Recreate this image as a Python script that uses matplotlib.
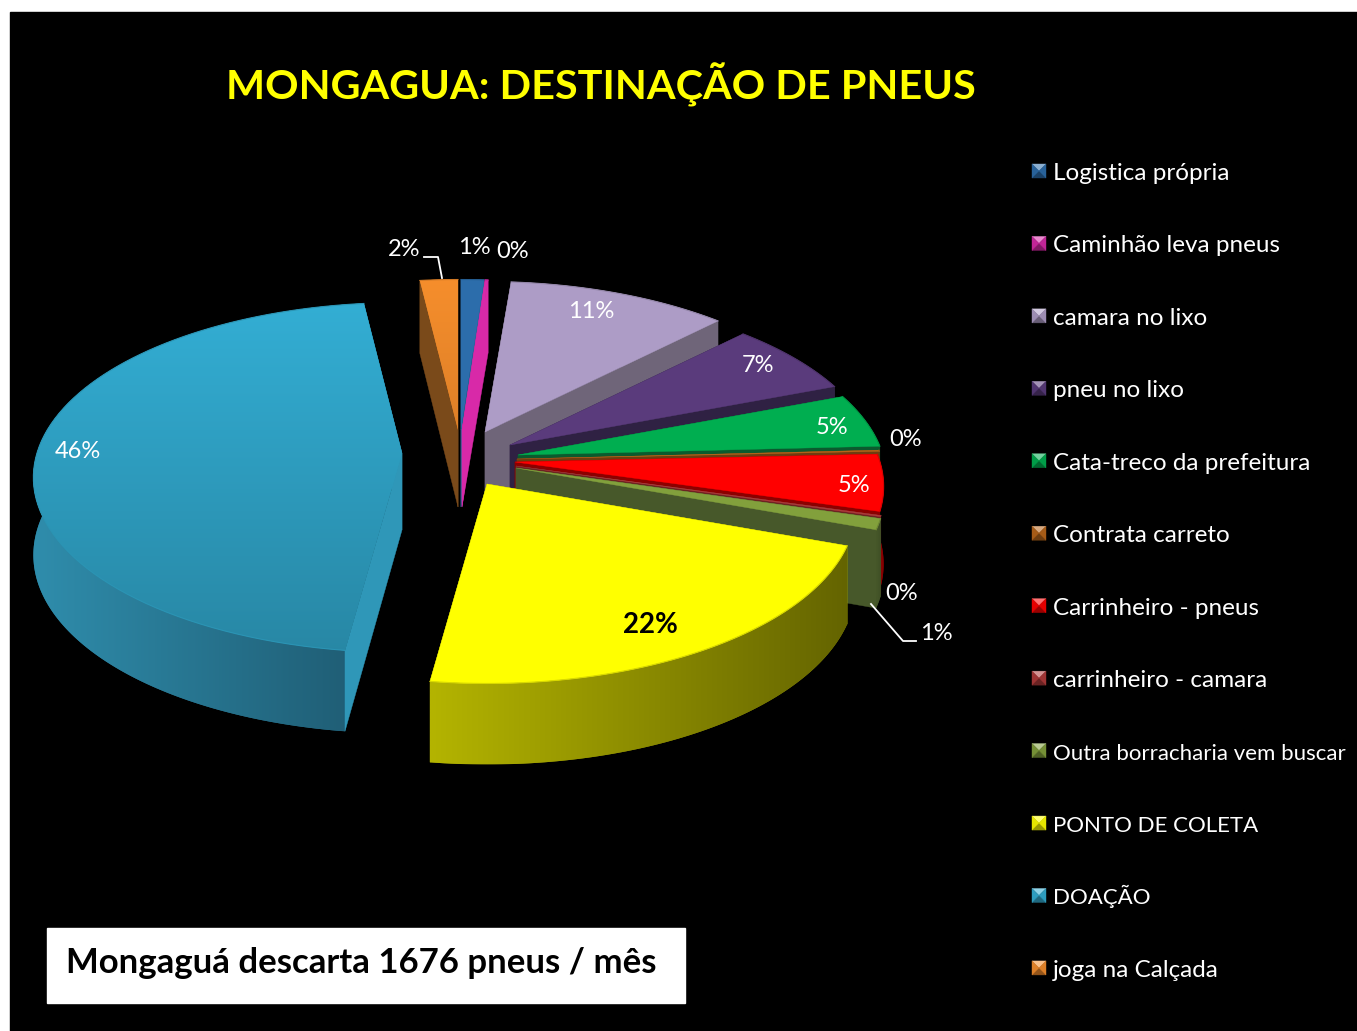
import numpy as np
import matplotlib
matplotlib.use("Agg")
import matplotlib.pyplot as plt
from matplotlib.patches import Polygon, Rectangle
from matplotlib.colors import to_rgb

plt.rcParams['font.family'] = ['Lato', 'DejaVu Sans']

# Data (clockwise from 12 o'clock)
categories = ["Logistica própria", "Caminhão leva pneus", "camara no lixo", "pneu no lixo",
              "Cata-treco da prefeitura", "Contrata carreto", "Carrinheiro - pneus",
              "carrinheiro - camara", "Outra borracharia vem buscar", "PONTO DE COLETA",
              "DOAÇÃO", "joga na Calçada"]
values = [1.15, 0.15, 11.1, 6.8, 5.0, 0.1, 5.2, 0.1, 1.0, 21.6, 46.0, 1.9]

# Styles
top_colors = ["#2c6dab", "#d829a8", "#ad9cc6", "#5a3b7c", "#00ae50", "#b8651a",
              "#ff0000", "#b03a3a", "#82a03c", "#ffff00", "#33aed4", "#f68e2c"]
cut_colors = ["#265f92", "#d829a8", "#6f6579", "#2f2143", "#0b5a2e", "#6e3d10",
              "#8c0000", "#6e2222", "#47582a", "#8f8f00", "#2f97b8", "#7a4a1a"]
wall_left = ["#265f92", "#a82085", "#6f6579", "#2f2143", "#0b6a36", "#6e3d10",
             "#a00000", "#6e2222", "#47582a", "#b4b400", "#2f8dac", "#7a4a1a"]
wall_right = ["#265f92", "#a82085", "#6f6579", "#2f2143", "#0b5a2e", "#6e3d10",
              "#800000", "#6e2222", "#3f4f25", "#646400", "#1f5c73", "#7a4a1a"]
# position of each slice's tip after the explosion, in pixels
tips = [(461, 430), (462, 430), (485, 432), (510, 445), (518, 455), (517, 459),
        (515, 462), (516, 466), (516, 468), (487, 484), (402, 453), (458, 430)]
draw_order = [11, 0, 1, 2, 3, 4, 5, 6, 7, 8, 10, 9]
label_pos = [(474, 248), (513, 252), (591, 312), (758, 366), (832, 428), (906, 440),
             (854, 486), (902, 594), (936, 634), (650, 625), (78, 452), (404, 250)]
legend_sizes = [17.5, 17.5, 17.5, 17.5, 17.5, 17.5, 17.5, 17.5, 16, 16, 16, 17.5]

R = 365
squash = 0.47
persp = 0.14
depth = 77


def project(tip, theta, r=R):
    w = 1 + persp * np.cos(theta)
    return tip[0] + r * np.sin(theta) / w, tip[1] - squash * r * np.cos(theta) / w


def mix(c1, c2, t):
    a, b = np.array(to_rgb(c1)), np.array(to_rgb(c2))
    return tuple(a + (b - a) * t)


def gradient_poly(pts, c1, c2, vertical, zorder):
    # polygon filled by a linear gradient, one image clipped to it
    pts = np.asarray(pts)
    base = Polygon(pts, closed=True, facecolor=mix(c1, c2, 0.5), edgecolor="none", zorder=zorder)
    ax.add_patch(base)
    ramp = np.linspace(0, 1, 256)
    a, b = np.array(to_rgb(c1)), np.array(to_rgb(c2))
    img = a + (b - a) * ramp[:, None]
    img = img[:, None, :] if vertical else img[None, :, :]
    ext = (pts[:, 0].min(), pts[:, 0].max(), pts[:, 1].max(), pts[:, 1].min())
    im = ax.imshow(img, extent=ext, aspect="auto", zorder=zorder, interpolation="bilinear")
    im.set_clip_path(base)
    ax.set_xlim(0, 1357)
    ax.set_ylim(1031, 0)


fig = plt.figure(figsize=(13.57, 10.31), dpi=100, facecolor="white")
ax = fig.add_axes([0, 0, 1, 1])
ax.set_xlim(0, 1357)
ax.set_ylim(1031, 0)
ax.axis("off")
ax.add_patch(Rectangle((10, 12), 1347, 1019, color="black", zorder=0))

z = 1
edges = np.cumsum([0] + values) / sum(values) * 2 * np.pi
for i in draw_order:
    tip = tips[i]
    th = np.linspace(edges[i], edges[i + 1], max(4, int((edges[i + 1] - edges[i]) * 60)))
    arc = np.array([project(tip, t) for t in th])
    drop = np.array([depth - 4 * np.cos(t) for t in th])
    low = arc + np.column_stack([np.zeros(len(th)), drop])

    # the outer wall and the two cut faces, back ones first
    faces = [(np.mean(np.r_[arc[:, 1], low[:, 1]]), "wall", np.vstack([arc, low[::-1]]))]
    for end in (0, -1):
        quad = np.array([tip, arc[end], low[end], (tip[0], tip[1] + depth)])
        faces.append((quad[:, 1].mean(), "cut", quad))
    for _, kind, pts in sorted(faces, key=lambda f: f[0]):
        if kind == "wall":
            gradient_poly(pts, wall_left[i], wall_right[i], False, z)
        else:
            ax.add_patch(Polygon(pts, closed=True, facecolor=cut_colors[i], edgecolor=cut_colors[i],
                                 lw=0.3, zorder=z))
        z += 1

    top = np.vstack([[tip], arc])
    if i == 10:
        gradient_poly(top, top_colors[i], mix(top_colors[i], "#000000", 0.22), True, z)
    elif i == 11:
        gradient_poly(top, top_colors[i], mix(top_colors[i], "#000000", 0.1), True, z)
    else:
        ax.add_patch(Polygon(top, closed=True, facecolor=top_colors[i], edgecolor=top_colors[i],
                             lw=0.3, zorder=z))
    z += 1
    ax.plot(arc[:, 0], arc[:, 1], color=mix(top_colors[i], "#000000", 0.15), lw=0.8, zorder=z)
    z += 1

z += 1
# percentage labels
for i, v in enumerate(values):
    big = categories[i] == "PONTO DE COLETA"
    ax.text(label_pos[i][0], label_pos[i][1], f"{round(v)}%", color="black" if big else "white",
            fontsize=20 if big else 17, fontweight="bold" if big else "normal",
            ha="center", va="center", zorder=z)

# leader lines
ax.plot([424, 438, 442], [257, 257, 278], color="white", lw=1.3, zorder=z)
ax.plot([871, 903, 916], [604, 641, 641], color="white", lw=1.3, zorder=z)

# legend with small pyramid markers
for i, name in enumerate(categories):
    y = 171 + i * 72.45
    x0, x1, y0, y1 = 1032, 1046, y - 7, y + 7
    cx, cy = (x0 + x1) / 2, y
    col = top_colors[i]
    tris = [([(x0, y0), (x1, y0), (cx, cy)], mix(col, "#ffffff", 0.45)),
            ([(x0, y1), (x1, y1), (cx, cy)], mix(col, "#000000", 0.4)),
            ([(x0, y0), (x0, y1), (cx, cy)], mix(col, "#000000", 0.1)),
            ([(x1, y0), (x1, y1), (cx, cy)], mix(col, "#000000", 0.1))]
    for pts, c in tris:
        ax.add_patch(Polygon(pts, closed=True, facecolor=c, edgecolor=c, lw=0.3, zorder=z))
    ax.text(1053, y + 9, name, color="white", fontsize=legend_sizes[i], ha="left", va="baseline", zorder=z)

ax.text(601, 85, "MONGAGUA: DESTINAÇÃO DE PNEUS", color="#ffff00", fontsize=29.8, fontweight="bold",
        ha="center", va="center", zorder=z)

ax.add_patch(Rectangle((47, 928), 638, 75, color="white", zorder=z))
ax.text(361, 963, "Mongaguá descarta 1676 pneus / mês", color="black", fontsize=25, fontweight="bold",
        ha="center", va="center", zorder=z + 1)

fig.savefig("out.png", dpi=100, facecolor="white")
